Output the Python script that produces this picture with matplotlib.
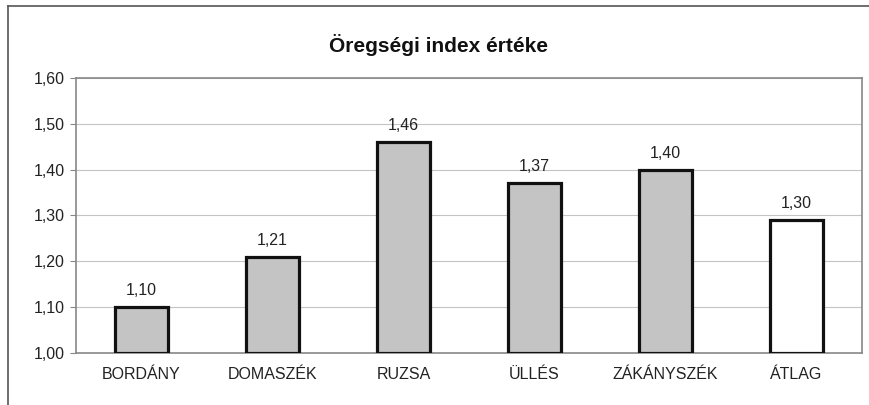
import matplotlib
matplotlib.use("Agg")
import matplotlib.pyplot as plt
from matplotlib.lines import Line2D

# Data
places = ['BORDÁNY', 'DOMASZÉK', 'RUZSA', 'ÜLLÉS', 'ZÁKÁNYSZÉK', 'ÁTLAG']
index_values = [1.10, 1.21, 1.46, 1.37, 1.40, 1.29]
value_labels = ['1,10', '1,21', '1,46', '1,37', '1,40', '1,30']
yticks = [1.00, 1.10, 1.20, 1.30, 1.40, 1.50, 1.60]

plt.rcParams['font.family'] = ['Liberation Sans', 'DejaVu Sans']

fig = plt.figure(figsize=(8.7, 4.05), dpi=100)
ax = fig.add_axes([76 / 870, 1 - 353 / 405, 786 / 870, 275 / 405])

colors = ['#c4c4c4'] * 5 + ['white']
x = range(len(places))
bars = ax.bar(x, [v - 1.0 for v in index_values], bottom=1.0, width=0.4,
              color=colors, edgecolor='#111111', linewidth=2.3, zorder=3)

for xi, v, lab in zip(x, index_values, value_labels):
    ax.text(xi, v + 0.02, lab, ha='center', va='bottom', fontsize=11.5, color='#222222')

ax.set_xlim(-0.5, 5.5)
ax.set_ylim(1.0, 1.6)
ax.set_yticks(yticks)
ax.set_yticklabels([f'{t:.2f}'.replace('.', ',') for t in yticks], fontsize=11.5, color='#222222')
ax.set_xticks(list(x))
ax.set_xticklabels(places, fontsize=11.5, color='#222222')
ax.tick_params(axis='x', length=0, pad=10)
ax.tick_params(axis='y', length=4, color='#888888', pad=4)
ax.yaxis.grid(True, color='#c4c4c4', linewidth=0.8, zorder=0)
for s in ax.spines.values():
    s.set_color('#888888')
    s.set_linewidth(1.2)

fig.text(439 / 870, 1 - 45 / 405, 'Öregségi index értéke', ha='center', va='center',
         fontsize=15, fontweight='bold', color='#111111')

# outer frame (left and top edges)
fig.add_artist(Line2D([8 / 870, 8 / 870], [1 - 6 / 405, 0], color='#555555', linewidth=1.2))
fig.add_artist(Line2D([8 / 870, 1], [1 - 6 / 405, 1 - 6 / 405], color='#555555', linewidth=1.2))

fig.savefig('out.png', dpi=100)
